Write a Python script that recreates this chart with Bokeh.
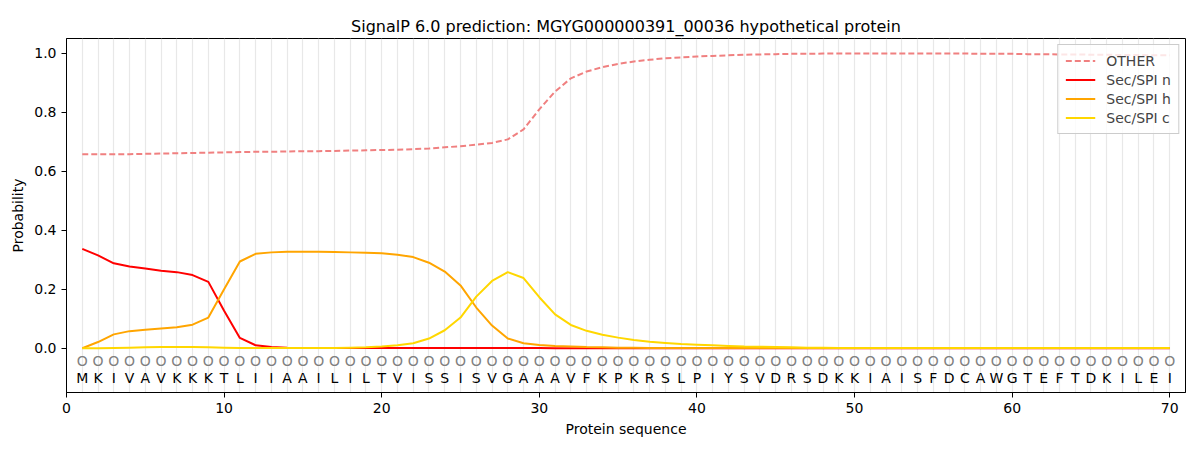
from bokeh.plotting import figure
from bokeh.models import FixedTicker, Range1d, Legend, LegendItem, ColumnDataSource, CustomJSTickFormatter
from bokeh.core.properties import value
from bokeh.embed import file_html
from bokeh.resources import INLINE

title = "SignalP 6.0 prediction: MGYG000000391_00036 hypothetical protein"
sequence = list("MKIVAVKKKTLIIAAILILTVISSISVGAAAVFKPKRSLPIYSVDRSDKKIAISFDCAWGTEFTDKILEI")
positions = list(range(1, len(sequence) + 1))
pred_labels = ["O"] * len(sequence)
x_ticks = [0, 10, 20, 30, 40, 50, 60, 70]
y_ticks = [0.0, 0.2, 0.4, 0.6, 0.8, 1.0]

other = [0.658, 0.658, 0.658, 0.658, 0.659, 0.660, 0.661, 0.662, 0.663, 0.664,
         0.665, 0.666, 0.666, 0.667, 0.668, 0.668, 0.669, 0.670, 0.671, 0.672,
         0.673, 0.675, 0.677, 0.681, 0.685, 0.690, 0.696, 0.708, 0.742, 0.810,
         0.870, 0.915, 0.938, 0.953, 0.964, 0.972, 0.978, 0.983, 0.986, 0.989,
         0.991, 0.993, 0.995, 0.996, 0.997, 0.998, 0.998, 0.999, 0.999, 0.999,
         0.999, 0.999, 0.999, 0.999, 0.999, 0.999, 0.999, 0.998, 0.998, 0.998,
         0.997, 0.997, 0.996, 0.996, 0.995, 0.995, 0.994, 0.994, 0.993, 0.993]
sec_n = [0.337, 0.315, 0.288, 0.277, 0.270, 0.263, 0.258, 0.248, 0.225, 0.127,
         0.035, 0.010, 0.004, 0.002, 0.001, 0.001, 0.001, 0.001, 0.001, 0.001,
         0.001, 0.001, 0.001, 0.001, 0.001, 0.001, 0.001, 0.001, 0.001, 0.001,
         0.0, 0.0, 0.0, 0.0, 0.0, 0.0, 0.0, 0.0, 0.0, 0.0,
         0.0, 0.0, 0.0, 0.0, 0.0, 0.0, 0.0, 0.0, 0.0, 0.0,
         0.0, 0.0, 0.0, 0.0, 0.0, 0.0, 0.0, 0.0, 0.0, 0.0,
         0.0, 0.0, 0.0, 0.0, 0.0, 0.0, 0.0, 0.0, 0.0, 0.0]
sec_h = [0.000, 0.021, 0.047, 0.058, 0.063, 0.067, 0.071, 0.080, 0.104, 0.200,
         0.294, 0.320, 0.325, 0.327, 0.327, 0.327, 0.326, 0.325, 0.324, 0.322,
         0.317, 0.309, 0.290, 0.260, 0.213, 0.138, 0.077, 0.033, 0.017, 0.011,
         0.008, 0.006, 0.004, 0.003, 0.002, 0.002, 0.001, 0.001, 0.001, 0.001,
         0.001, 0.001, 0.001, 0.001, 0.001, 0.001, 0.001, 0.001, 0.001, 0.001,
         0.001, 0.001, 0.001, 0.001, 0.001, 0.001, 0.001, 0.001, 0.001, 0.001,
         0.001, 0.001, 0.001, 0.001, 0.001, 0.001, 0.001, 0.001, 0.001, 0.001]
sec_c = [0.000, 0.000, 0.001, 0.002, 0.003, 0.004, 0.004, 0.004, 0.003, 0.002,
         0.001, 0.001, 0.001, 0.001, 0.001, 0.001, 0.001, 0.002, 0.003, 0.006,
         0.010, 0.017, 0.033, 0.061, 0.104, 0.175, 0.228, 0.258, 0.238, 0.173,
         0.115, 0.079, 0.059, 0.046, 0.036, 0.028, 0.022, 0.018, 0.014, 0.012,
         0.010, 0.008, 0.006, 0.005, 0.004, 0.003, 0.002, 0.002, 0.001, 0.001,
         0.001, 0.001, 0.001, 0.001, 0.001, 0.001, 0.001, 0.001, 0.001, 0.001,
         0.001, 0.001, 0.001, 0.001, 0.001, 0.001, 0.001, 0.001, 0.001, 0.001]

FONT = "DejaVu Sans"

p = figure(width=1200, height=450, output_backend="svg", toolbar_location=None,
           x_range=Range1d(0, 71), y_range=Range1d(-0.15, 1.05),
           min_border_left=66, min_border_right=15, min_border_top=38, min_border_bottom=58,
           title=title)
p.title.align = "center"
p.title.text_font = FONT
p.title.text_font_size = "16px"
p.title.text_font_style = "normal"
p.title.text_color = "black"
p.title.standoff = 6

p.outline_line_color = "black"
p.outline_line_width = 1
p.outline_line_alpha = 1

p.ygrid.visible = False
p.xgrid.ticker = FixedTicker(ticks=positions)
p.xgrid.grid_line_color = "#e6e6e6"
p.xgrid.grid_line_alpha = 0.9
p.xgrid.grid_line_width = 1.2

p.xaxis.ticker = FixedTicker(ticks=x_ticks)
p.yaxis.ticker = FixedTicker(ticks=y_ticks)
p.yaxis.formatter = CustomJSTickFormatter(code="return tick.toFixed(1);")
for ax in (p.xaxis, p.yaxis):
    ax.axis_line_color = "black"
    ax.major_tick_line_color = "black"
    ax.major_tick_out = 5
    ax.major_tick_in = 0
    ax.minor_tick_line_color = None
    ax.major_label_text_font = FONT
    ax.major_label_text_font_size = "14px"
    ax.major_label_text_color = "black"
    ax.axis_label_text_font = FONT
    ax.axis_label_text_font_size = "14px"
    ax.axis_label_text_font_style = "normal"
    ax.axis_label_text_color = "black"
p.xaxis.axis_label = "Protein sequence"
p.yaxis.axis_label = "Probability"

src = ColumnDataSource(dict(x=positions, other=other, n=sec_n, h=sec_h, c=sec_c,
                            seq=sequence, lab=pred_labels,
                            ys=[-0.10] * len(sequence), yl=[-0.043] * len(sequence)))

r_o = p.line("x", "other", source=src, line_color="#F08080", line_width=2, line_dash="6 3")
r_n = p.line("x", "n", source=src, line_color="red", line_width=2)
r_h = p.line("x", "h", source=src, line_color="orange", line_width=2)
r_c = p.line("x", "c", source=src, line_color="gold", line_width=2)

p.text("x", "yl", text="lab", source=src, text_align="center", text_baseline="middle",
       text_font=value(FONT), text_font_size="14px", text_color="#808080")
p.text("x", "ys", text="seq", source=src, text_align="center", text_baseline="middle",
       text_font=value(FONT), text_font_size="14px", text_color="black")

legend = Legend(items=[LegendItem(label="OTHER", renderers=[r_o]),
                       LegendItem(label="Sec/SPI n", renderers=[r_n]),
                       LegendItem(label="Sec/SPI h", renderers=[r_h]),
                       LegendItem(label="Sec/SPI c", renderers=[r_c])],
                location="top_right")
legend.label_text_font = FONT
legend.label_text_font_size = "14px"
legend.border_line_color = "#cccccc"
legend.border_line_alpha = 1
legend.background_fill_alpha = 0.8
legend.glyph_width = 30
legend.glyph_height = 17
legend.label_height = 17
legend.label_standoff = 11
legend.spacing = 2
legend.padding = 7
legend.margin = 6
p.add_layout(legend)

open("out.html", "w").write(file_html(p, INLINE))
